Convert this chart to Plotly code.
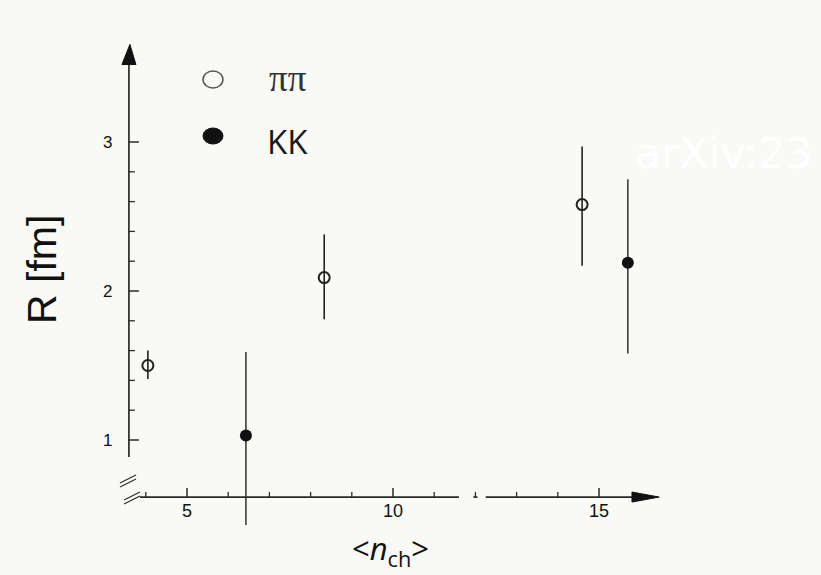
import plotly.graph_objects as go

# ---- data ----
pi_x = [4.05, 8.33, 14.59]
pi_y = [1.50, 2.09, 2.58]
pi_err_up = [0.10, 0.29, 0.39]
pi_err_dn = [0.09, 0.28, 0.41]

kk_x = [6.43, 15.70]
kk_y = [1.03, 2.19]
kk_err_up = [0.56, 0.56]
kk_err_dn = [0.60, 0.61]

x_major = [5, 10, 15]
x_major_labels = ["5", "10", "15"]
x_minor = [4, 6, 7, 8, 9, 11, 12, 13, 14]
y_major = [1, 2, 3]
y_major_labels = ["1", "2", "3"]
y_minor = [1.2, 1.4, 1.6, 1.8, 2.2, 2.4, 2.6, 2.8]

W, H = 821, 575
# pixel <-> data mapping of the drawing area (full canvas)
X0, X1 = 0.461, 20.388
Y0, Y1 = 0.094, 3.953
ux = (X1 - X0) / W   # data units per px
uy = (Y1 - Y0) / H

XAX = 3.59           # x position of the y axis
YAX = 0.617          # y position of the x axis

fig = go.Figure()

fig.add_trace(go.Scatter(
    x=pi_x, y=pi_y, mode="markers",
    marker=dict(symbol="circle-open", size=11, color="#222", line=dict(width=2)),
    error_y=dict(type="data", symmetric=False, array=pi_err_up, arrayminus=pi_err_dn,
                 width=0, thickness=1.6, color="#222"),
    showlegend=False, hoverinfo="skip"))

fig.add_trace(go.Scatter(
    x=kk_x, y=kk_y, mode="markers",
    marker=dict(symbol="circle", size=12, color="#111"),
    error_y=dict(type="data", symmetric=False, array=kk_err_up, arrayminus=kk_err_dn,
                 width=0, thickness=1.4, color="#222"),
    showlegend=False, hoverinfo="skip"))

shapes = []
lc = "#2a2a2a"
# y axis line
shapes.append(dict(type="line", x0=XAX, x1=XAX, y0=0.886, y1=3.53,
                   line=dict(color=lc, width=1.7)))
# y arrow head
shapes.append(dict(type="path",
                   path=f"M {XAX-7*ux} {3.52} L {XAX+7*ux} {3.52} L {XAX+1*ux} {3.655} Z",
                   fillcolor="#111", line=dict(color="#111", width=1)))
# x axis line (with scan gap)
shapes.append(dict(type="line", x0=3.86, x1=11.6, y0=YAX, y1=YAX,
                   line=dict(color=lc, width=1.7)))
shapes.append(dict(type="line", x0=11.95, x1=12.05, y0=YAX, y1=YAX,
                   line=dict(color=lc, width=1.7)))
shapes.append(dict(type="line", x0=12.25, x1=15.9, y0=YAX, y1=YAX,
                   line=dict(color=lc, width=1.7)))
# x arrow head
shapes.append(dict(type="path",
                   path=f"M 15.8 {YAX+5*uy} L 15.8 {YAX-5*uy} L 16.46 {YAX} Z",
                   fillcolor="#111", line=dict(color="#111", width=1)))
# ticks
for v in x_major:
    shapes.append(dict(type="line", x0=v, x1=v, y0=YAX, y1=YAX + 9*uy,
                       line=dict(color=lc, width=1.5)))
for v in x_minor:
    shapes.append(dict(type="line", x0=v, x1=v, y0=YAX, y1=YAX + 5*uy,
                       line=dict(color=lc, width=1.3)))
for v in y_major:
    shapes.append(dict(type="line", x0=XAX, x1=XAX + 10*ux, y0=v, y1=v,
                       line=dict(color=lc, width=1.5)))
for v in y_minor:
    shapes.append(dict(type="line", x0=XAX, x1=XAX + 6*ux, y0=v, y1=v,
                       line=dict(color=lc, width=1.3)))
# axis break marks
for (ax, ay) in [(120, 483), (124, 500)]:
    for d in (0, 4):
        shapes.append(dict(type="line",
                           x0=X0 + (ax) * ux, y0=Y1 - (ay + d) * uy,
                           x1=X0 + (ax + 16) * ux, y1=Y1 - (ay + d - 8) * uy,
                           line=dict(color=lc, width=1.2)))
# legend symbols
shapes.append(dict(type="circle", xref="paper", yref="paper",
                   x0=(203)/W, x1=(223)/W, y0=1-(88)/H, y1=1-(71)/H,
                   line=dict(color="#555", width=1.5), fillcolor="rgba(0,0,0,0)"))
shapes.append(dict(type="circle", xref="paper", yref="paper",
                   x0=(203)/W, x1=(223)/W, y0=1-(144)/H, y1=1-(128)/H,
                   line=dict(color="#111", width=1), fillcolor="#111"))

ann = []
for v, t in zip(x_major, x_major_labels):
    ann.append(dict(x=v, y=YAX - 14*uy, text=t, showarrow=False,
                    xanchor="center", yanchor="middle",
                    font=dict(family="Liberation Sans, Arial", size=18, color="#111")))
for v, t in zip(y_major, y_major_labels):
    ann.append(dict(x=XAX - 21*ux, y=v, text=t, showarrow=False,
                    xanchor="center", yanchor="middle",
                    font=dict(family="Liberation Sans, Arial", size=17, color="#111")))

ann.append(dict(xref="paper", yref="paper", x=267/W, y=1-78/H, xanchor="left",
                yanchor="middle", text="ππ", showarrow=False,
                font=dict(family="Liberation Serif, Times New Roman", size=37, color="#333")))
ann.append(dict(xref="paper", yref="paper", x=265/W, y=1-142/H, xanchor="left",
                yanchor="middle", text="KK", showarrow=False,
                font=dict(family="Open Sans, Liberation Sans", size=33, color="#1a1a1a")))
ann.append(dict(xref="paper", yref="paper", x=42/W, y=1-270/H, textangle=-90,
                xanchor="center", yanchor="middle",
                text="R [fm]", showarrow=False,
                font=dict(family="Liberation Sans, Arial", size=41, color="#111")))
ann.append(dict(xref="paper", yref="paper", x=390/W, y=1-550/H,
                xanchor="center", yanchor="middle",
                text="&lt;<i>n</i><sub>ch</sub>&gt;", showarrow=False,
                font=dict(family="Open Sans, Liberation Sans", size=31, color="#111")))
ann.append(dict(xref="paper", yref="paper", x=633/W, y=1-153/H, xanchor="left",
                yanchor="middle",
                text="arXiv:23", showarrow=False,
                font=dict(family="DejaVu Sans", size=43, color="#ffffff")))

fig.update_layout(
    width=W, height=H,
    margin=dict(l=0, r=0, t=0, b=0),
    paper_bgcolor="#f9f9f5", plot_bgcolor="#f9f9f5",
    xaxis=dict(range=[X0, X1], visible=False, fixedrange=True),
    yaxis=dict(range=[Y0, Y1], visible=False, fixedrange=True),
    shapes=shapes, annotations=ann,
)

fig.write_html("out.html")
